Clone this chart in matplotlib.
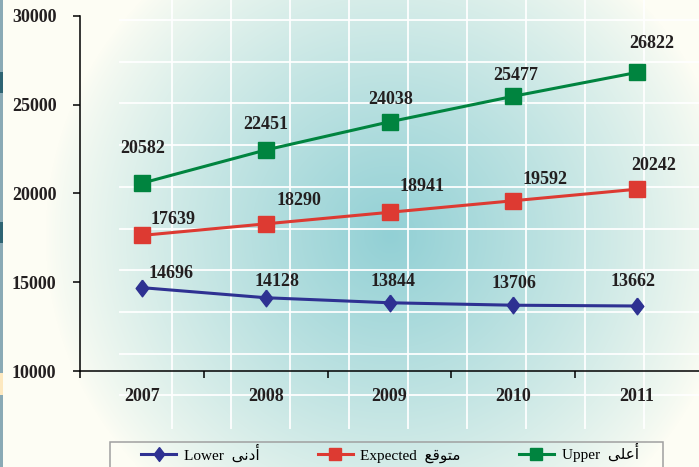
#!/usr/bin/env python
"""
Lower / expected / upper projection, 2007-2011, line chart with labels
"""

import numpy as np
import matplotlib
matplotlib.use("Agg")
import matplotlib.pyplot as plt
from matplotlib.lines import Line2D
from matplotlib.patches import Rectangle

# data
YEARS = ["2007", "2008", "2009", "2010", "2011"]
LOWER = [14696, 14128, 13844, 13706, 13662]
EXPECTED = [17639, 18290, 18941, 19592, 20242]
UPPER = [20582, 22451, 24038, 25477, 26822]

# legend labels (arabic given in presentation forms, visual order)
LABEL_LOWER = "Lower  \uFEF0\uFEE7\uFEA9\uFE83"
LABEL_EXPECTED = "Expected  \uFECA\uFED7\uFEEE\uFE98\uFEE3"
LABEL_UPPER = "Upper  \uFEF0\uFEE0\uFECB\uFE83"

# label offsets in pixels (dx, dy) per point
OFF_LOWER = [(29, 14), (11, 16), (4, 21), (1, 22), (-4, 24)]
OFF_EXPECTED = [(31, 16), (33, 23), (33, 26), (32, 21), (17, 24)]
OFF_UPPER = [(1, 35), (0, 25), (1, 22), (2, 21), (15, 29)]

GREEN = "#00843f"
RED = "#dd3a32"
BLUE = "#2e3192"
TEXT = "#231f20"
SERIF = ["Liberation Serif", "DejaVu Serif"]

W, H = 699, 467
fig = plt.figure(figsize=(W / 100, H / 100), dpi=100)

# background: radial teal glow over cream, plus faint white grid
bg = fig.add_axes([0, 0, 1, 1])
yy, xx = np.mgrid[0:H, 0:W]
r = np.sqrt(((xx - 390) / 345.0) ** 2 + ((yy - 235) / 340.0) ** 2)
t = np.clip(1 - r, 0, 1) ** 0.85
cream = np.array([253, 253, 244]) / 255.0
teal = np.array([146, 208, 213]) / 255.0
img = cream + (teal - cream) * t[..., None]
bg.imshow(img, extent=(0, W, H, 0), aspect="auto")
for gx in np.arange(172, W, 59.0):
    bg.plot([gx, gx], [0, 428], color="white", lw=1.4, alpha=0.9)
for gy in np.arange(20, 400, 41.7):
    bg.plot([120, W], [gy, gy], color="white", lw=1.4, alpha=0.9)
# thin coloured strip at the left edge
bg.add_patch(Rectangle((0, 0), 2.5, H, color="#8aaab5", lw=0))
for y0, y1, c in [(72, 93, "#2e6473"), (222, 243, "#2e6473"),
                  (373, 395, "#fde9c0")]:
    bg.add_patch(Rectangle((0, y0), 2.5, y1 - y0, color=c, lw=0))
bg.set_xlim(0, W)
bg.set_ylim(H, 0)
bg.axis("off")

# main axes
ax = fig.add_axes([80 / W, 1 - 371 / H, (W - 80) / W, (371 - 16) / H])
ax.patch.set_visible(False)
x = np.arange(len(YEARS))

ax.plot(x, UPPER, color=GREEN, lw=2.2, marker="s", ms=11, zorder=3)
ax.plot(x, EXPECTED, color=RED, lw=2.2, marker="s", ms=11, zorder=3)
diamond = [(0, 1), (0.76, 0), (0, -1), (-0.76, 0), (0, 1)]
ax.plot(x, LOWER, color=BLUE, lw=2.2, marker=diamond, ms=12, zorder=3)

for vals, offs in [(UPPER, OFF_UPPER), (EXPECTED, OFF_EXPECTED),
                   (LOWER, OFF_LOWER)]:
    for xi, v, (dx, dy) in zip(x, vals, offs):
        ax.annotate(str(v), (xi, v), xytext=(dx, dy),
                    textcoords="offset pixels", ha="center", va="center",
                    fontsize=13, fontweight="bold", family=SERIF, color=TEXT)

ax.set_xlim(-0.5, 4.5)
ax.set_ylim(10000, 30000)
ax.set_yticks([10000, 15000, 20000, 25000, 30000])
ax.set_xticks([-0.5, 0.5, 1.5, 2.5, 3.5])
ax.set_xticklabels([])
ax.set_xticks(x, minor=True)
ax.set_xticklabels(YEARS, minor=True)
ax.tick_params(axis="x", which="major", direction="out", length=5,
               width=1.1, color="black")
ax.tick_params(axis="x", which="minor", length=0, pad=12)
ax.tick_params(axis="y", direction="out", length=5, width=1.1,
               color="black", pad=12)
for lab in ax.get_xticklabels(minor=True) + ax.get_yticklabels():
    lab.set_family(SERIF)
    lab.set_fontweight("bold")
    lab.set_fontsize(13)
    lab.set_color(TEXT)
for s in ["top", "right"]:
    ax.spines[s].set_visible(False)
for s in ["left", "bottom"]:
    ax.spines[s].set_linewidth(1.1)
    ax.spines[s].set_color("black")

# legend box runs off the bottom edge
fig.patches.append(Rectangle((110 / W, -0.05), (663 - 110) / W,
                             0.05 + (H - 442) / H, transform=fig.transFigure,
                             facecolor="none", edgecolor="#a0a0a0", lw=1.1))
handles = [
    Line2D([], [], color=BLUE, lw=2.2, marker=diamond, ms=10),
    Line2D([], [], color=RED, lw=2.2, marker="s", ms=9),
    Line2D([], [], color=GREEN, lw=2.2, marker="s", ms=9),
]
fig.legend(handles, [LABEL_LOWER, LABEL_EXPECTED, LABEL_UPPER],
           loc="center left", bbox_to_anchor=(141 / W, 1 - 453 / H),
           ncol=3, frameon=False, borderpad=0, borderaxespad=0,
           handlelength=2.3, handletextpad=0.5, columnspacing=3.8,
           prop={"family": SERIF + ["DejaVu Sans"], "size": 11})

fig.savefig("out.png", dpi=100)
